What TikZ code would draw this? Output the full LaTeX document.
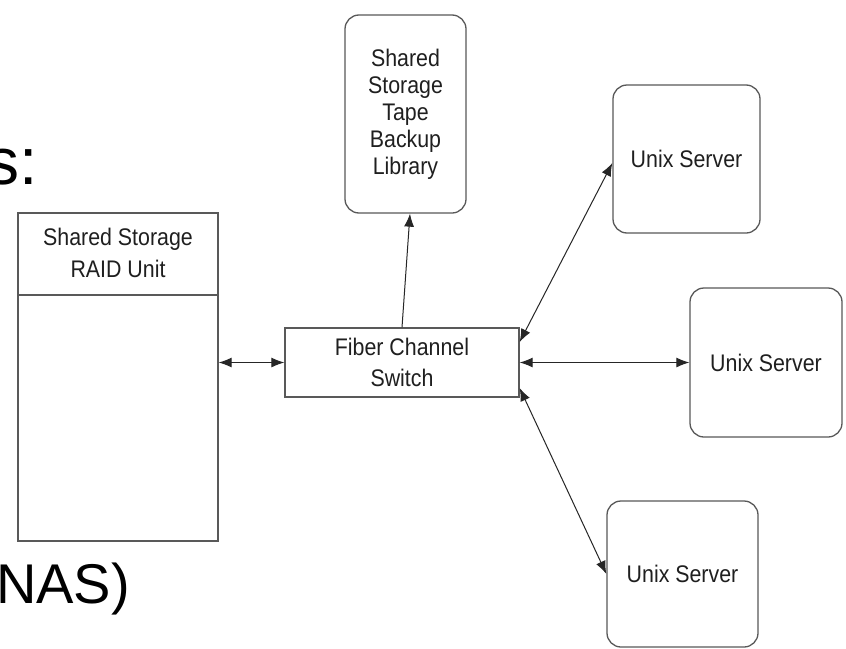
\documentclass[tikz,border=0pt]{standalone}
\usepackage{fontspec}
\setmainfont{Liberation Sans}
\newfontfamily\boxfont[FakeStretch=0.89]{Liberation Sans}
\usetikzlibrary{arrows.meta}
\tikzset{
  box/.style={draw=black!65, line width=1.3pt, fill=white, inner sep=0pt,
    font=\boxfont\fontsize{24}{31}\selectfont, text=black!88, align=center},
  rbox/.style={box, rounded corners=14pt},
  link/.style={draw=black!85, line width=1pt},
  tip/.style={-{Latex[length=13pt,width=10pt]}},
  both/.style={{Latex[length=13pt,width=10pt]}-{Latex[length=13pt,width=10pt]}},
  big/.style={font=\fontsize{56}{60}\selectfont, inner sep=0pt, text=black}
}
\begin{document}
\begin{tikzpicture}[x=1pt,y=-1pt]
\useasboundingbox[fill=white] (0,0) rectangle (846,648);
% large clipped slide text
\node[big, font=\fontsize{66}{70}\selectfont, anchor=base east] (bigs) at (38,184) {s:};
\node[big, anchor=base west] (bignas) at (-4,603) {NAS)};
% RAID unit
\node[box, minimum width=200pt, minimum height=328pt] (raid) at (118,377) {};
\draw[draw=black!65, line width=1.3pt] (raid.west |- 0,295) -- (raid.east |- 0,295);
\node[box, draw=none, fill=none, font=\boxfont\fontsize{24}{32}\selectfont] (raidt) at (118,253) {Shared Storage\\RAID Unit};
% switch
\node[box, minimum width=234pt, minimum height=69pt] (sw) at (402,362.5) {Fiber Channel\\Switch};
% tape library
\node[rbox, minimum width=121pt, minimum height=198pt,
  font=\boxfont\fontsize{24}{27}\selectfont] (tape) at (405.5,114)
  {Shared\\Storage\\Tape\\Backup\\Library};
% servers
\node[rbox, minimum width=147pt, minimum height=148pt] (s1) at (686.5,159) {Unix Server};
\node[rbox, minimum width=152pt, minimum height=149pt] (s2) at (766,362.5) {Unix Server};
\node[rbox, minimum width=151pt, minimum height=146pt] (s3) at (682.5,574) {Unix Server};
% connectors
\draw[link, both] (raid.east |- sw.west) -- (sw.west);
\draw[link, tip] (sw.north) -- ([xshift=4.5pt]tape.south);
\draw[link, both] ([yshift=20.5pt]sw.east) -- ([yshift=-4pt]s1.west);
\draw[link, both] (sw.east) -- (s2.west);
\draw[link, both] ([yshift=-25.5pt]sw.east) -- (s3.west);
\end{tikzpicture}
\end{document}
